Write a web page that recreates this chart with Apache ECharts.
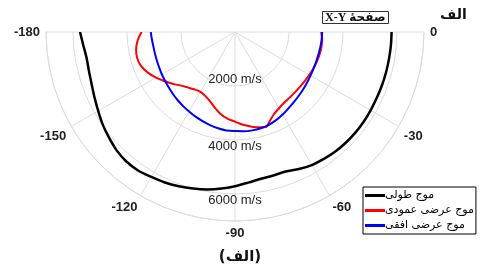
<!DOCTYPE html>
<html>
<head>
<meta charset="utf-8">
<script src="https://cdn.jsdelivr.net/npm/echarts@6/dist/echarts.min.js"></script>
<style>
  html, body { margin: 0; padding: 0; background: #fff; }
  #polar-chart { width: 480px; height: 271px; }
</style>
</head>
<body>
<div id="polar-chart"></div>
<script>
// angle ticks (deg) and radial labels
const angleTicks = [-180, -150, -120, -90, -60, -30, 0]
const speedTicks = [2000, 4000, 6000]
const seriesNames = ['موج طولی', 'موج عرضی عمودی', 'موج عرضی افقی']

// longitudinal wave
const blackAngles = [-180, -175, -170, -165, -160, -155, -150, -145, -140, -135, -130, -125, -120, -115, -110, -105, -100, -95, -90,
  -85, -80, -75, -70, -65, -60, -55, -50, -45, -40, -35, -30, -25, -20, -15, -10, -5, 0]
const blackSpeeds = [5740, 5640, 5580, 5600, 5650, 5740, 5850, 5980, 6090, 6200, 6260, 6260, 6200, 6150, 6080, 6000, 5920, 5820, 5710,
  5600, 5520, 5500, 5500, 5600, 5690, 5740, 5780, 5800, 5810, 5810, 5800, 5790, 5790, 5790, 5790, 5795, 5800]

// vertical shear wave
const redAngles = [-180, -175, -170, -165, -160, -155, -150, -145, -140, -135, -130, -125, -120, -115, -110, -105, -100, -95, -90,
  -85, -80, -75, -72, -69, -65, -60, -55, -50, -45, -40, -35, -30, -25, -20, -15, -10, -5, 0]
const redSpeeds = [3460, 3620, 3720, 3750, 3700, 3560, 3380, 3170, 2990, 2810, 2690, 2600, 2560, 2610, 2720, 2900, 3080, 3220, 3320,
  3450, 3560, 3650, 3700, 3560, 3380, 3260, 3190, 3160, 3150, 3150, 3160, 3180, 3200, 3220, 3240, 3250, 3240, 3190]

// horizontal shear wave
const blueAngles = [-180, -175, -170, -165, -160, -155, -150, -145, -140, -135, -130, -125, -120, -115, -110, -105, -100, -95, -90,
  -85, -80, -75, -70, -65, -60, -55, -50, -45, -40, -35, -30, -25, -20, -15, -10, -5, 0]
const blueSpeeds = [3120, 3090, 3070, 3070, 3080, 3100, 3130, 3160, 3200, 3250, 3300, 3350, 3400, 3460, 3510, 3570, 3620, 3660, 3670,
  3690, 3700, 3690, 3660, 3600, 3530, 3450, 3390, 3340, 3300, 3260, 3230, 3210, 3200, 3200, 3210, 3220, 3230]

function pairs (angles, speeds) {
  return angles.map((a, i) => [speeds[i], a])
}

let myChart = echarts.init(document.getElementById('polar-chart'))
let gridGray = '#dcdcdc'
let option = {
  animation: false,
  title: [
    {
      text: 'X-Y صفحهٔ',
      left: 322,
      top: 11,
      padding: [1, 3, 0, 3],
      borderColor: '#333',
      borderWidth: 1,
      textStyle: { fontFamily: 'Liberation Serif, DejaVu Sans', fontSize: 12, fontWeight: 'bold', color: '#111' }
    },
    {
      text: 'الف',
      left: 440,
      top: 8,
      padding: 0,
      textStyle: { fontFamily: 'DejaVu Sans', fontSize: 14, fontWeight: 'bold', color: '#111' }
    },
    {
      text: '(الف)',
      left: 'center',
      top: 250,
      padding: 0,
      textStyle: { fontFamily: 'DejaVu Sans', fontSize: 15, fontWeight: 'bold', color: '#111' }
    }
  ],
  legend: {
    data: seriesNames,
    orient: 'vertical',
    left: 363,
    top: 187,
    padding: [1, 2, 1, 2],
    itemGap: 0,
    itemWidth: 20,
    itemHeight: 3,
    icon: 'rect',
    borderColor: '#000',
    borderWidth: 1,
    backgroundColor: '#fff',
    textStyle: { fontFamily: 'DejaVu Sans', fontSize: 11, lineHeight: 15, color: '#000', padding: [0, 0, 0, -5] }
  },
  polar: [
    { center: [235, 32], radius: 189 },
    { center: [235, 32], radius: 189 }
  ],
  angleAxis: [
    {
      polarIndex: 0,
      type: 'value',
      min: -180,
      max: 0,
      interval: 30,
      startAngle: 180,
      endAngle: 360,
      clockwise: false,
      axisLine: { lineStyle: { color: gridGray, width: 1 } },
      axisTick: { show: false },
      splitLine: { lineStyle: { color: gridGray, width: 1 } },
      axisLabel: {
        margin: 6,
        fontFamily: 'Liberation Sans, Arial',
        fontSize: 13,
        fontWeight: 'bold',
        color: '#222',
        formatter: v => angleTicks.indexOf(v) >= 0 ? String(v) : ''
      }
    },
    {
      polarIndex: 1,
      type: 'value',
      min: 0,
      max: 360,
      startAngle: 270,
      axisLine: { show: false },
      axisTick: { show: false },
      axisLabel: { show: false },
      splitLine: { show: false }
    }
  ],
  radiusAxis: [
    {
      polarIndex: 0,
      min: 0,
      max: 7000,
      interval: 2000,
      axisLine: { show: false },
      axisTick: { show: false },
      axisLabel: { show: false },
      splitLine: { lineStyle: { color: gridGray, width: 1 } }
    },
    {
      polarIndex: 1,
      min: 0,
      max: 7000,
      interval: 2000,
      axisLine: { show: false },
      axisTick: { show: false },
      splitLine: { show: false },
      axisLabel: {
        margin: 0,
        align: 'center',
        verticalAlign: 'middle',
        fontFamily: 'Liberation Sans, Arial',
        fontSize: 13,
        color: '#222',
        formatter: v => {
          if (speedTicks.indexOf(v) < 0) return ''
          return v === speedTicks[0] ? '{up|' + v + ' m/s}' : '{down|' + v + ' m/s}'
        },
        rich: {
          up: { fontFamily: 'Liberation Sans, Arial', fontSize: 13, color: '#222', padding: [0, 0, 14, 0] },
          down: { fontFamily: 'Liberation Sans, Arial', fontSize: 13, color: '#222', padding: [12, 0, 0, 0] }
        }
      }
    }
  ],
  series: [
    {
      name: seriesNames[0],
      type: 'line',
      coordinateSystem: 'polar',
      polarIndex: 0,
      smooth: 0.3,
      symbol: 'none',
      itemStyle: { color: '#000' },
      lineStyle: { color: '#000', width: 2.5 },
      data: pairs(blackAngles, blackSpeeds)
    },
    {
      name: seriesNames[1],
      type: 'line',
      coordinateSystem: 'polar',
      polarIndex: 0,
      smooth: 0.3,
      symbol: 'none',
      itemStyle: { color: '#ff0000' },
      lineStyle: { color: '#ff0000', width: 2 },
      data: pairs(redAngles, redSpeeds)
    },
    {
      name: seriesNames[2],
      type: 'line',
      coordinateSystem: 'polar',
      polarIndex: 0,
      smooth: 0.3,
      symbol: 'none',
      itemStyle: { color: '#0000ff' },
      lineStyle: { color: '#0000ff', width: 2 },
      data: pairs(blueAngles, blueSpeeds)
    }
  ]
}
myChart.setOption(option)
</script>
</body>
</html>
